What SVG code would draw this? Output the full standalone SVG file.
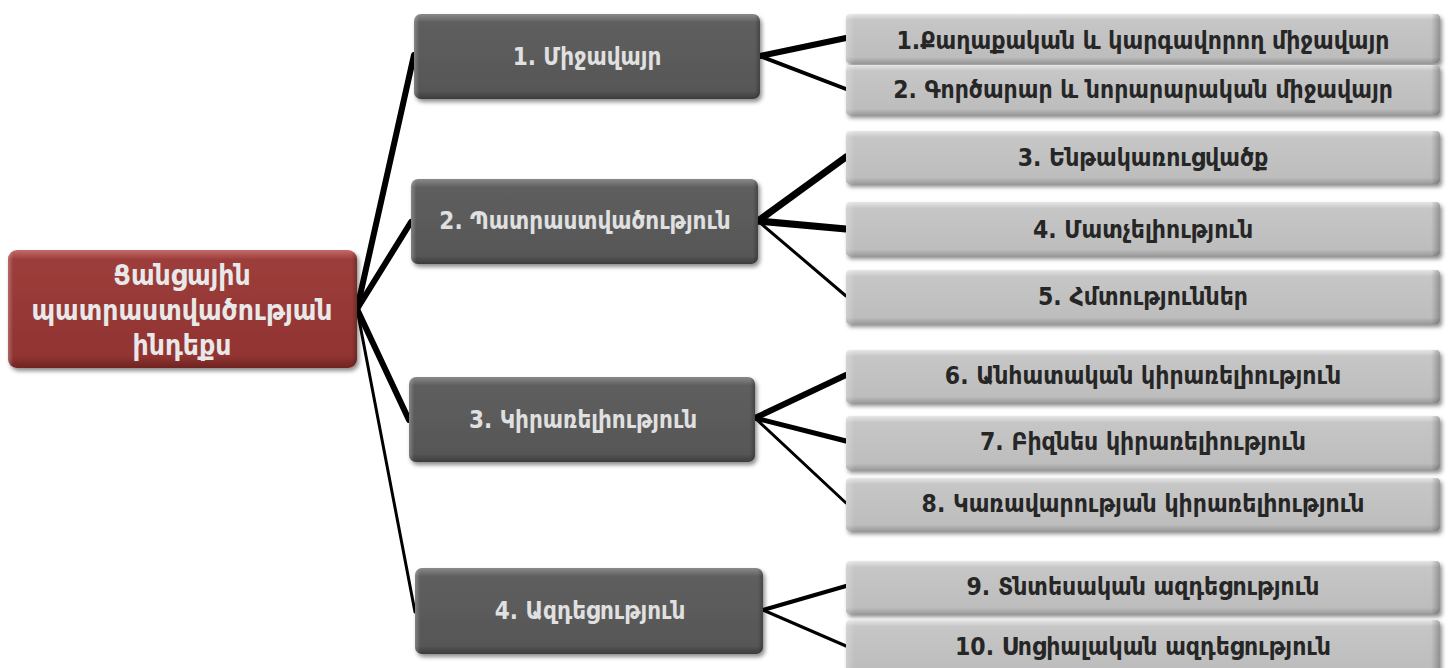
<svg xmlns="http://www.w3.org/2000/svg" width="1448" height="668" viewBox="0 0 1448 668">
<defs>
<style>
.t{font-family:"DejaVu Sans Condensed","DejaVu Sans",sans-serif;font-stretch:condensed;font-weight:bold;text-anchor:middle;dominant-baseline:central}
.t0{font-size:28px;fill:#e8e8e8}
.t1{font-size:24px;fill:#e0e0e0}
.t2{font-size:24.5px;fill:#262626}
.c{stroke:#000;fill:none;stroke-linecap:round}
</style>
<linearGradient id="gR" x1="0" y1="0" x2="0" y2="1">
<stop offset="0" stop-color="#c46a68"/><stop offset="0.08" stop-color="#9c3d3b"/><stop offset="0.9" stop-color="#923432"/><stop offset="1" stop-color="#6e2422"/>
</linearGradient>
<linearGradient id="gD" x1="0" y1="0" x2="0" y2="1">
<stop offset="0" stop-color="#8a8a8a"/><stop offset="0.1" stop-color="#5e5e5e"/><stop offset="0.9" stop-color="#575757"/><stop offset="1" stop-color="#3c3c3c"/>
</linearGradient>
<linearGradient id="gL" x1="0" y1="0" x2="0" y2="1">
<stop offset="0" stop-color="#e6e6e6"/><stop offset="0.12" stop-color="#c6c6c6"/><stop offset="0.88" stop-color="#bdbdbd"/><stop offset="1" stop-color="#9a9a9a"/>
</linearGradient>
<linearGradient id="gS" x1="0" y1="0" x2="1" y2="0">
<stop offset="0" stop-color="#fff" stop-opacity="0.25"/><stop offset="0.015" stop-color="#fff" stop-opacity="0"/><stop offset="0.985" stop-color="#000" stop-opacity="0"/><stop offset="1" stop-color="#000" stop-opacity="0.25"/>
</linearGradient>
<filter id="sh" x="-5%" y="-10%" width="110%" height="130%">
<feDropShadow dx="2" dy="3" stdDeviation="2" flood-color="#000" flood-opacity="0.45"/>
</filter>
</defs>
<rect width="1448" height="668" fill="#fff"/>
<g id="connectors">
<line class="c" x1="357" y1="309" x2="414" y2="55" stroke-width="6"/>
<line class="c" x1="357" y1="309" x2="411" y2="222" stroke-width="6"/>
<line class="c" x1="357" y1="309" x2="409" y2="420" stroke-width="6"/>
<line class="c" x1="357" y1="309" x2="415" y2="612" stroke-width="3"/>
<line class="c" x1="760" y1="56" x2="846" y2="38" stroke-width="6"/>
<line class="c" x1="760" y1="56" x2="846" y2="89" stroke-width="4"/>
<line class="c" x1="758" y1="221" x2="846" y2="157" stroke-width="7"/>
<line class="c" x1="758" y1="221" x2="846" y2="229" stroke-width="7"/>
<line class="c" x1="758" y1="221" x2="846" y2="296" stroke-width="3"/>
<line class="c" x1="755" y1="418" x2="846" y2="375" stroke-width="6"/>
<line class="c" x1="755" y1="418" x2="846" y2="441" stroke-width="5"/>
<line class="c" x1="755" y1="418" x2="846" y2="503" stroke-width="3"/>
<line class="c" x1="763" y1="610" x2="846" y2="586" stroke-width="4"/>
<line class="c" x1="763" y1="610" x2="846" y2="646" stroke-width="3"/>
</g>
<g id="root">
<rect x="8" y="250" width="349" height="118" rx="9" fill="url(#gR)" filter="url(#sh)"/>
<rect x="8" y="250" width="349" height="118" rx="9" fill="url(#gS)"/>
<text class="t t0" x="182" y="275">Ցանցային</text>
<text class="t t0" x="182" y="310">պատրաստվածության</text>
<text class="t t0" x="182" y="345">ինդեքս</text>
</g>
<g id="n1">
<rect x="414" y="14" width="346" height="85" rx="7" fill="url(#gD)" filter="url(#sh)"/>
<rect x="414" y="14" width="346" height="85" rx="7" fill="url(#gS)"/>
<text class="t t1" x="587" y="57">1. Միջավայր</text>
</g>
<g id="n2">
<rect x="411" y="179" width="347" height="85" rx="7" fill="url(#gD)" filter="url(#sh)"/>
<rect x="411" y="179" width="347" height="85" rx="7" fill="url(#gS)"/>
<text class="t t1" x="585" y="221">2. Պատրաստվածություն</text>
</g>
<g id="n3">
<rect x="409" y="377" width="346" height="85" rx="7" fill="url(#gD)" filter="url(#sh)"/>
<rect x="409" y="377" width="346" height="85" rx="7" fill="url(#gS)"/>
<text class="t t1" x="583" y="420">3. Կիրառելիություն</text>
</g>
<g id="n4">
<rect x="415" y="568" width="348" height="86" rx="7" fill="url(#gD)" filter="url(#sh)"/>
<rect x="415" y="568" width="348" height="86" rx="7" fill="url(#gS)"/>
<text class="t t1" x="590" y="611">4. Ազդեցություն</text>
</g>
<g id="s1">
<rect x="846" y="14" width="594" height="49" rx="4" fill="url(#gL)" filter="url(#sh)"/>
<rect x="846" y="14" width="594" height="49" rx="4" fill="url(#gS)"/>
<text class="t t2" x="1143" y="40">1.Քաղաքական և կարգավորող  միջավայր</text>
</g>
<g id="s2">
<rect x="846" y="65" width="594" height="50" rx="4" fill="url(#gL)" filter="url(#sh)"/>
<rect x="846" y="65" width="594" height="50" rx="4" fill="url(#gS)"/>
<text class="t t2" x="1143" y="89">2. Գործարար և նորարարական միջավայր</text>
</g>
<g id="s3">
<rect x="846" y="131" width="594" height="53" rx="4" fill="url(#gL)" filter="url(#sh)"/>
<rect x="846" y="131" width="594" height="53" rx="4" fill="url(#gS)"/>
<text class="t t2" x="1143" y="157">3. Ենթակառուցվածք</text>
</g>
<g id="s4">
<rect x="846" y="202" width="594" height="54" rx="4" fill="url(#gL)" filter="url(#sh)"/>
<rect x="846" y="202" width="594" height="54" rx="4" fill="url(#gS)"/>
<text class="t t2" x="1143" y="229">4. Մատչելիություն</text>
</g>
<g id="s5">
<rect x="846" y="270" width="594" height="54" rx="4" fill="url(#gL)" filter="url(#sh)"/>
<rect x="846" y="270" width="594" height="54" rx="4" fill="url(#gS)"/>
<text class="t t2" x="1143" y="296">5. Հմտություններ</text>
</g>
<g id="s6">
<rect x="846" y="350" width="594" height="53" rx="4" fill="url(#gL)" filter="url(#sh)"/>
<rect x="846" y="350" width="594" height="53" rx="4" fill="url(#gS)"/>
<text class="t t2" x="1143" y="375">6. Անհատական կիրառելիություն</text>
</g>
<g id="s7">
<rect x="846" y="416" width="594" height="54" rx="4" fill="url(#gL)" filter="url(#sh)"/>
<rect x="846" y="416" width="594" height="54" rx="4" fill="url(#gS)"/>
<text class="t t2" x="1143" y="441">7. Բիզնես կիրառելիություն</text>
</g>
<g id="s8">
<rect x="846" y="478" width="594" height="53" rx="4" fill="url(#gL)" filter="url(#sh)"/>
<rect x="846" y="478" width="594" height="53" rx="4" fill="url(#gS)"/>
<text class="t t2" x="1143" y="503">8. Կառավարության կիրառելիություն</text>
</g>
<g id="s9">
<rect x="846" y="561" width="594" height="53" rx="4" fill="url(#gL)" filter="url(#sh)"/>
<rect x="846" y="561" width="594" height="53" rx="4" fill="url(#gS)"/>
<text class="t t2" x="1143" y="586">9. Տնտեսական ազդեցություն</text>
</g>
<g id="s10">
<rect x="846" y="620" width="594" height="54" rx="4" fill="url(#gL)" filter="url(#sh)"/>
<rect x="846" y="620" width="594" height="54" rx="4" fill="url(#gS)"/>
<text class="t t2" x="1143" y="646">10. Սոցիալական ազդեցություն</text>
</g>
</svg>
